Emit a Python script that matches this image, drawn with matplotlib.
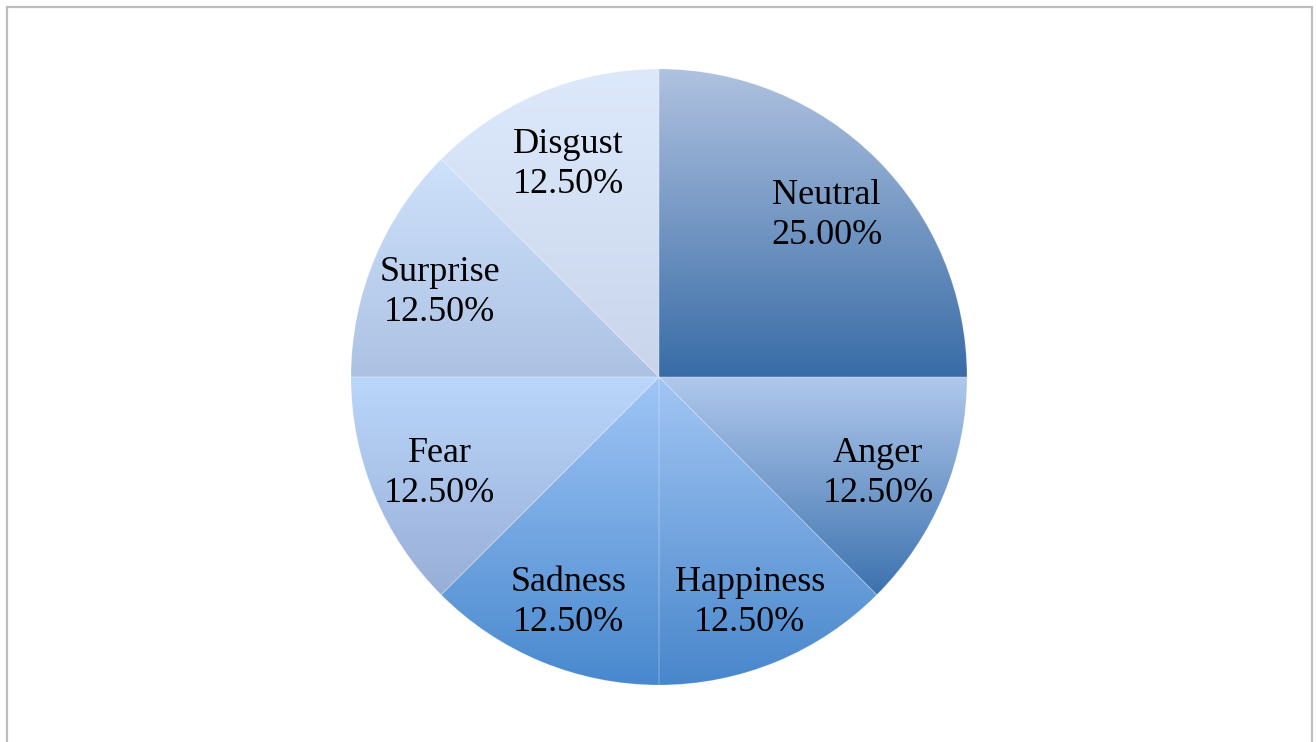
import matplotlib
matplotlib.use("Agg")
import matplotlib.pyplot as plt
import numpy as np
from matplotlib.colors import to_rgb
from matplotlib.patches import Rectangle

# Emotion distribution (percent)
emotions = ["Neutral", "Anger", "Happiness", "Sadness", "Fear", "Surprise", "Disgust"]
shares = [25.0, 12.5, 12.5, 12.5, 12.5, 12.5, 12.5]

# vertical gradient per slice: (top colour, bottom colour)
top_colors = ["#b0c2e0", "#b0c8ec", "#a2c6f4", "#a0c6f6", "#bad6fb", "#cde1fb", "#dde9fb"]
bottom_colors = ["#386ca6", "#3c72ae", "#4886cb", "#4888ce", "#98aed6", "#adc2e3", "#c9d5eb"]

W, H = 1316, 742
fig = plt.figure(figsize=(W / 100, H / 100), dpi=100)
fig.patch.set_facecolor("white")

# light grey frame around the chart area
fig.add_artist(Rectangle((7 / W, -0.05), (1312 - 7) / W, (H - 7) / H + 0.05,
                         transform=fig.transFigure, fill=False,
                         edgecolor="#bdbdbd", linewidth=1.6))

# pie centre at (659, 377) px, radius 308 px
cx, cy, r = 659, 377, 308
ax = fig.add_axes([(cx - r) / W, (H - cy - r) / H, 2 * r / W, 2 * r / H])

wedges, _ = ax.pie(shares, startangle=90, counterclock=False, radius=1.0,
                   colors=["none"] * len(shares),
                   wedgeprops=dict(edgecolor=(1, 1, 1, 0.18), linewidth=0.7))

for w, c_top, c_bot, name, val in zip(wedges, top_colors, bottom_colors, emotions, shares):
    t1, t2 = np.deg2rad(w.theta1), np.deg2rad(w.theta2)
    ang = np.linspace(t1, t2, 100)
    xs = np.concatenate([[0], np.cos(ang)])
    ys = np.concatenate([[0], np.sin(ang)])
    x0, x1, y0, y1 = xs.min(), xs.max(), ys.min(), ys.max()

    f = np.linspace(0, 1, 256)[:, None]
    img = (1 - f) * np.array(to_rgb(c_top)) + f * np.array(to_rgb(c_bot))
    img = img[:, None, :]
    im = ax.imshow(img, extent=[x0, x1, y0, y1], origin="upper",
                   aspect="auto", interpolation="bilinear", zorder=1)
    im.set_clip_path(w)
    w.set_zorder(2)

    mid = (t1 + t2) / 2
    d = 0.77
    ax.text(d * np.cos(mid), d * np.sin(mid) - 0.02, f"{name}\n{val:.2f}%",
            ha="center", va="center", fontsize=26, family="Liberation Serif",
            linespacing=1.28, color="black", zorder=3)

ax.set_xlim(-1, 1)
ax.set_ylim(-1, 1)
ax.set_aspect("equal")
ax.axis("off")

fig.savefig("out.png", dpi=100)
